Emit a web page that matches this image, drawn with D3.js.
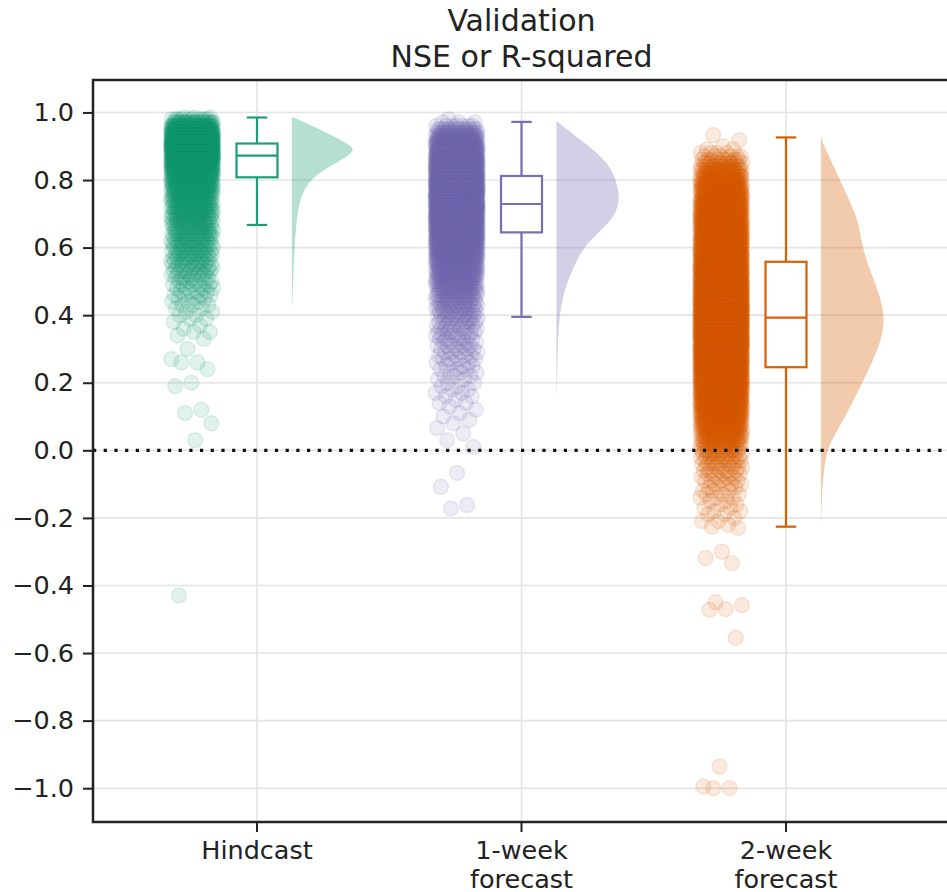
<!DOCTYPE html>
<html>
<head>
<meta charset="utf-8">
<script src="https://cdn.jsdelivr.net/npm/d3@7"></script>
<style>
  body { margin: 0; background: #fff; }
  text { font-family: "DejaVu Sans", sans-serif; fill: #222; }
</style>
</head>
<body>
<svg id="chart"></svg>
<script>
var groups = ["Hindcast", "1-week forecast", "2-week forecast"];
var groupLabels = [["Hindcast"], ["1-week", "forecast"], ["2-week", "forecast"]];
var colors = ["#1b9e77", "#7570b3", "#d95f02"];
var titleLines = ["Validation", "NSE or R-squared"];
var yTicks = [-1.0, -0.8, -0.6, -0.4, -0.2, 0.0, 0.2, 0.4, 0.6, 0.8, 1.0];

// box plot stats
var boxLow = [0.667, 0.395, -0.226];
var boxQ1 = [0.808, 0.645, 0.246];
var boxMedian = [0.872, 0.729, 0.393];
var boxQ3 = [0.908, 0.812, 0.558];
var boxHigh = [0.985, 0.972, 0.926];

// scatter: [value, how many points at that value]
var hindcastPoints = [[0.985,3],[0.98,10],[0.97,25],[0.96,40],[0.95,58],[0.94,75],[0.93,90],[0.92,100],
  [0.91,108],[0.90,110],[0.89,110],[0.88,105],[0.87,96],[0.86,88],[0.85,77],[0.84,67],[0.83,57],[0.82,50],
  [0.81,43],[0.80,37],[0.79,32],[0.78,29],[0.77,25],[0.76,22],[0.75,20],[0.74,19],[0.73,18],[0.72,17],
  [0.71,17],[0.70,16],[0.69,15],[0.68,14],[0.67,13],[0.66,13],[0.65,12],[0.64,12],[0.63,11],[0.62,11],
  [0.61,10],[0.60,10],[0.59,10],[0.58,9],[0.57,9],[0.56,8],[0.55,8],[0.54,7],[0.53,7],[0.52,6],[0.51,6],
  [0.50,5],[0.49,5],[0.48,4],[0.47,4],[0.46,4],[0.45,3],[0.44,3],[0.43,3],[0.42,2],[0.41,2],[0.40,2],
  [0.39,2],[0.38,1],[0.37,1],[0.36,1],[0.35,2],[0.34,1],[0.33,1],[0.30,1],[0.27,1],[0.26,2],[0.24,1],
  [0.20,1],[0.19,1],[0.12,1],[0.11,1],[0.08,1],[0.03,1],[-0.43,1]];

var week1Points = [[0.98,1],[0.97,3],[0.96,7],[0.95,13],[0.94,20],[0.93,28],[0.92,36],[0.91,45],[0.90,53],
  [0.89,60],[0.88,66],[0.87,72],[0.86,76],[0.85,80],[0.84,84],[0.83,88],[0.82,91],[0.81,94],[0.80,97],
  [0.79,99],[0.78,100],[0.77,101],[0.76,102],[0.75,103],[0.74,103],[0.73,102],[0.72,100],[0.71,98],
  [0.70,96],[0.69,93],[0.68,90],[0.67,86],[0.66,82],[0.65,78],[0.64,74],[0.63,69],[0.62,64],[0.61,59],
  [0.60,54],[0.59,49],[0.58,45],[0.57,40],[0.56,37],[0.55,33],[0.54,30],[0.53,27],[0.52,25],[0.51,22],
  [0.50,20],[0.49,18],[0.48,17],[0.47,15],[0.46,14],[0.45,12],[0.44,11],[0.43,10],[0.42,10],[0.41,9],
  [0.40,8],[0.39,7],[0.38,7],[0.37,6],[0.36,6],[0.35,6],[0.34,5],[0.33,5],[0.32,5],[0.31,5],[0.30,4],
  [0.29,4],[0.28,4],[0.27,4],[0.26,3],[0.25,3],[0.24,3],[0.23,3],[0.22,3],[0.21,2],[0.20,2],[0.19,2],
  [0.18,2],[0.17,2],[0.16,2],[0.15,1],[0.14,2],[0.13,1],[0.12,1],[0.11,1],[0.10,1],[0.09,1],[0.08,1],
  [0.066,1],[0.05,1],[0.03,1],[0.01,1],[-0.067,1],[-0.108,1],[-0.162,1],[-0.172,1]];

var week2Points = [[0.933,1],[0.918,1],[0.90,1],[0.89,2],[0.88,4],[0.87,6],[0.86,8],[0.85,11],[0.84,13],
  [0.83,16],[0.82,19],[0.81,22],[0.80,25],[0.79,28],[0.78,30],[0.77,33],[0.76,35],[0.75,38],[0.74,40],
  [0.73,43],[0.72,45],[0.71,47],[0.70,49],[0.69,51],[0.68,52],[0.67,54],[0.66,55],[0.65,56],[0.64,57],
  [0.63,58],[0.62,60],[0.61,61],[0.60,63],[0.59,64],[0.58,66],[0.57,68],[0.56,70],[0.55,72],[0.54,74],
  [0.53,76],[0.52,78],[0.51,80],[0.50,82],[0.49,84],[0.48,86],[0.47,89],[0.46,91],[0.45,93],[0.44,95],
  [0.43,97],[0.42,98],[0.41,99],[0.40,100],[0.39,100],[0.38,100],[0.37,99],[0.36,99],[0.35,98],[0.34,97],
  [0.33,95],[0.32,94],[0.31,92],[0.30,90],[0.29,88],[0.28,86],[0.27,84],[0.26,81],[0.25,79],[0.24,76],
  [0.23,74],[0.22,71],[0.21,68],[0.20,65],[0.19,62],[0.18,59],[0.17,56],[0.16,53],[0.15,50],[0.14,47],
  [0.13,44],[0.12,40],[0.11,37],[0.10,34],[0.09,31],[0.08,28],[0.07,25],[0.06,22],[0.05,20],[0.04,18],
  [0.03,16],[0.02,14],[0.01,12],[0.00,10],[-0.01,9],[-0.02,8],[-0.03,7],[-0.04,6],[-0.05,6],[-0.06,5],
  [-0.07,5],[-0.08,4],[-0.09,4],[-0.10,4],[-0.11,3],[-0.12,3],[-0.13,3],[-0.14,3],[-0.15,2],[-0.16,2],
  [-0.17,2],[-0.18,2],[-0.19,2],[-0.20,1],[-0.21,2],[-0.22,1],[-0.226,1],[-0.23,1],[-0.30,1],[-0.319,1],
  [-0.334,1],[-0.45,1],[-0.458,1],[-0.47,1],[-0.472,1],[-0.555,1],[-0.936,1],[-0.995,1],[-1.0,2]];

// half violins: [value, relative width]
var hindcastDensity = [[0.985,0.03],[0.96,0.33],[0.933,0.62],[0.91,0.86],[0.893,1.0],[0.875,0.92],[0.854,0.74],
  [0.835,0.55],[0.815,0.39],[0.785,0.23],[0.745,0.13],[0.686,0.076],[0.607,0.044],[0.509,0.021],[0.45,0.01],[0.42,0]];
var week1Density = [[0.972,0.02],[0.95,0.17],[0.923,0.35],[0.9,0.52],[0.874,0.68],[0.85,0.8],[0.824,0.89],
  [0.79,0.96],[0.755,1.0],[0.725,0.98],[0.696,0.92],[0.67,0.81],[0.647,0.68],[0.62,0.54],[0.598,0.43],
  [0.56,0.32],[0.528,0.24],[0.49,0.16],[0.459,0.11],[0.42,0.07],[0.381,0.044],[0.32,0.025],[0.262,0.016],
  [0.2,0.008],[0.15,0]];
var week2Density = [[0.926,0.01],[0.908,0.03],[0.87,0.13],[0.829,0.23],[0.77,0.38],[0.711,0.52],[0.67,0.6],
  [0.632,0.63],[0.59,0.68],[0.543,0.76],[0.5,0.85],[0.465,0.92],[0.42,0.98],[0.385,1.0],[0.35,0.98],
  [0.307,0.92],[0.26,0.81],[0.208,0.68],[0.16,0.55],[0.109,0.41],[0.06,0.26],[0.011,0.12],[-0.03,0.07],
  [-0.068,0.043],[-0.12,0.02],[-0.186,0.005],[-0.23,0]];

var pointSets = [hindcastPoints, week1Points, week2Points];
var densitySets = [hindcastDensity, week1Density, week2Density];

var w = 947;
var h = 892;
var plotLeft = 93, plotRight = 950, plotTop = 80, plotBottom = 822;

var svg = d3.select("#chart")
  .attr("width", w)
  .attr("height", h);

var xScale = d3.scaleLinear()
  .domain([-0.62, 2.62])
  .range([plotLeft, plotRight]);

var yScale = d3.scaleLinear()
  .domain([-1.1, 1.096])
  .range([plotBottom, plotTop]);

var plot = svg.append("g");

// grid
plot.selectAll("line.hgrid")
  .data(yTicks)
  .enter()
  .append("line")
  .attr("class", "hgrid")
  .attr("x1", plotLeft)
  .attr("x2", plotRight)
  .attr("y1", function(d) { return yScale(d); })
  .attr("y2", function(d) { return yScale(d); })
  .attr("stroke", "#e4e4e4")
  .attr("stroke-width", 1.6);

plot.selectAll("line.vgrid")
  .data(groups)
  .enter()
  .append("line")
  .attr("class", "vgrid")
  .attr("x1", function(d, i) { return xScale(i); })
  .attr("x2", function(d, i) { return xScale(i); })
  .attr("y1", plotTop)
  .attr("y2", plotBottom)
  .attr("stroke", "#e4e4e4")
  .attr("stroke-width", 1.6);

// half violins
var violinStart = 0.132;
var violinWidth = 0.238;

densitySets.forEach(function(dens, i) {
  var area = d3.area()
    .y(function(d) { return yScale(d[0]); })
    .x0(xScale(i + violinStart))
    .x1(function(d) { return xScale(i + violinStart + d[1] * violinWidth); })
    .curve(d3.curveBasis);
  plot.append("path")
    .datum(dens)
    .attr("d", area)
    .attr("fill", colors[i])
    .attr("fill-opacity", 0.33);
});

// boxes
var boxHalf = 0.0775;
groups.forEach(function(g, i) {
  var b = plot.append("g").attr("class", "box");
  var c = colors[i];
  b.append("line")
    .attr("x1", xScale(i)).attr("x2", xScale(i))
    .attr("y1", yScale(boxHigh[i])).attr("y2", yScale(boxQ3[i]))
    .attr("stroke", c).attr("stroke-width", 2.2);
  b.append("line")
    .attr("x1", xScale(i)).attr("x2", xScale(i))
    .attr("y1", yScale(boxQ1[i])).attr("y2", yScale(boxLow[i]))
    .attr("stroke", c).attr("stroke-width", 2.2);
  [boxHigh[i], boxLow[i]].forEach(function(v) {
    b.append("line")
      .attr("x1", xScale(i - boxHalf / 2)).attr("x2", xScale(i + boxHalf / 2))
      .attr("y1", yScale(v)).attr("y2", yScale(v))
      .attr("stroke", c).attr("stroke-width", 2.2);
  });
  b.append("rect")
    .attr("x", xScale(i - boxHalf))
    .attr("y", yScale(boxQ3[i]))
    .attr("width", xScale(i + boxHalf) - xScale(i - boxHalf))
    .attr("height", yScale(boxQ1[i]) - yScale(boxQ3[i]))
    .attr("fill", "white")
    .attr("stroke", c)
    .attr("stroke-width", 2.2);
  b.append("line")
    .attr("x1", xScale(i - boxHalf)).attr("x2", xScale(i + boxHalf))
    .attr("y1", yScale(boxMedian[i])).attr("y2", yScale(boxMedian[i]))
    .attr("stroke", c).attr("stroke-width", 2.2);
});

// scattered points, spread sideways with a golden-ratio jitter
var stripOffset = -0.245;
var jitter = 0.08;
pointSets.forEach(function(set, i) {
  var pts = [];
  var n = 0;
  set.forEach(function(p) {
    for (var k = 0; k < p[1]; k++) {
      pts.push({ v: p[0], n: n });
      n++;
    }
  });
  plot.append("g")
    .selectAll("circle")
    .data(pts)
    .enter()
    .append("circle")
    .attr("cx", function(d) {
      var f = (d.n * 0.6180339887 + 0.31) % 1;
      return xScale(i + stripOffset + (f - 0.5) * 2 * jitter);
    })
    .attr("cy", function(d) { return yScale(d.v); })
    .attr("r", 7.5)
    .attr("fill", colors[i])
    .attr("fill-opacity", 0.13)
    .attr("stroke", colors[i])
    .attr("stroke-opacity", 0.13)
    .attr("stroke-width", 1.5);
});

// zero line
plot.append("line")
  .attr("x1", plotLeft)
  .attr("x2", plotRight)
  .attr("y1", yScale(0))
  .attr("y2", yScale(0))
  .attr("stroke", "#111")
  .attr("stroke-width", 3.2)
  .attr("stroke-dasharray", "3.2,7.5");

// axes
var yAxis = d3.axisLeft(yScale)
  .tickValues(yTicks)
  .tickFormat(d3.format(".1f"))
  .tickSize(10)
  .tickPadding(9);

var gy = svg.append("g")
  .attr("transform", "translate(" + plotLeft + ",0)")
  .call(yAxis);
gy.select(".domain").remove();
gy.selectAll(".tick line").attr("stroke", "#222").attr("stroke-width", 2);
gy.selectAll(".tick text")
  .style("font-size", "25.5px")
  .style("font-family", "DejaVu Sans")
  .attr("fill", "#222");

var xTicks = svg.append("g");
xTicks.selectAll("line")
  .data(groups)
  .enter()
  .append("line")
  .attr("x1", function(d, i) { return xScale(i); })
  .attr("x2", function(d, i) { return xScale(i); })
  .attr("y1", plotBottom)
  .attr("y2", plotBottom + 10)
  .attr("stroke", "#222")
  .attr("stroke-width", 2);

xTicks.selectAll("text")
  .data(groupLabels)
  .enter()
  .append("text")
  .attr("text-anchor", "middle")
  .attr("x", function(d, i) { return xScale(i); })
  .attr("y", 859)
  .style("font-size", "25.5px")
  .selectAll("tspan")
  .data(function(d) { return d; })
  .enter()
  .append("tspan")
  .attr("x", function() { return d3.select(this.parentNode).attr("x"); })
  .attr("dy", function(d, j) { return j === 0 ? 0 : 29; })
  .text(function(d) { return d; });

// spines
svg.append("path")
  .attr("d", "M" + plotRight + "," + plotTop + "H" + plotLeft + "V" + plotBottom + "H" + plotRight)
  .attr("fill", "none")
  .attr("stroke", "#222")
  .attr("stroke-width", 2.5);

// title
svg.append("g")
  .selectAll("text")
  .data(titleLines)
  .enter()
  .append("text")
  .attr("text-anchor", "middle")
  .attr("x", (plotLeft + plotRight) / 2)
  .attr("y", function(d, i) { return 31 + i * 36; })
  .style("font-size", "30px")
  .text(function(d) { return d; });
</script>
</body>
</html>
